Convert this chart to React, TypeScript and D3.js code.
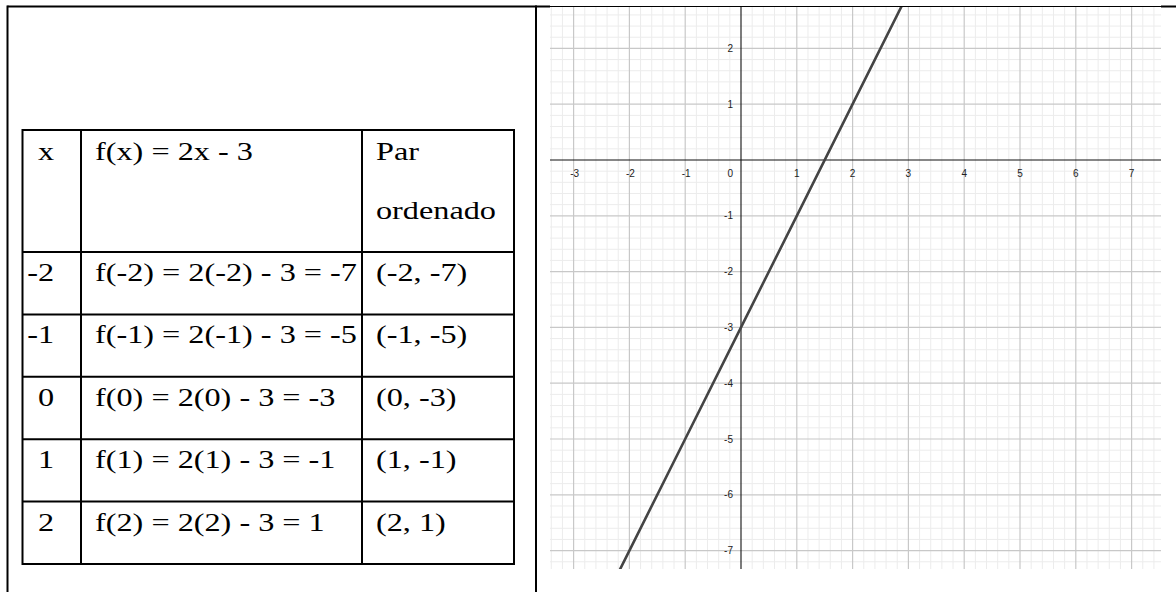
import React from "react";
import * as d3 from "d3";

// ---- data ----
const xValues = [-2, -1, 0, 1, 2];
const fValues = [-7, -5, -3, -1, 1];
const headerLabels = ["x", "f(x) = 2x - 3", "Par"];
const headerLabel2 = "ordenado";
const xLabels = ["-2", "-1", "0", "1", "2"];
const fLabels = [
  "f(-2) = 2(-2) - 3 = -7",
  "f(-1) = 2(-1) - 3 = -5",
  "f(0) = 2(0) - 3 = -3",
  "f(1) = 2(1) - 3 = -1",
  "f(2) = 2(2) - 3 = 1",
];
const pairLabels = ["(-2, -7)", "(-1, -5)", "(0, -3)", "(1, -1)", "(2, 1)"];
const xTicks = [-3, -2, -1, 1, 2, 3, 4, 5, 6, 7];
const yTicks = [2, 1, -1, -2, -3, -4, -5, -6, -7];

const W = 1176;
const H = 592;

// table geometry
const TL = 22.5, C1 = 81, C2 = 362, TR = 514;
const TT = 130, HB = 252, RH = 62.4;
const FS = 25, SX = 1.29;
const serif = "'Liberation Serif', 'Times New Roman', serif";
const sans = "'Liberation Sans', Arial, sans-serif";

// graph geometry
const GX0 = 550, GX1 = 1161, GY0 = 6.5, GY1 = 569;
const UNIT = 55.8;
const X0 = 741, Y0 = 160;

const ST = ({ x, y, text, anchor = "start" }: { x: number; y: number; text: string; anchor?: string }) => (
  <text
    transform={`translate(${x},${y}) scale(${SX},1)`}
    textAnchor={anchor}
    fontFamily={serif}
    fontSize={FS}
    fill="#000"
  >
    {text}
  </text>
);

export default function App() {
  const xScale = d3.scaleLinear().domain([0, 1]).range([X0, X0 + UNIT]);
  const yScale = d3.scaleLinear().domain([0, 1]).range([Y0, Y0 - UNIT]);
  const xMin = xScale.invert(GX0), xMax = xScale.invert(GX1);
  const yMin = yScale.invert(GY1), yMax = yScale.invert(GY0);

  const minorX = d3.range(Math.ceil(xMin * 5), Math.floor(xMax * 5) + 1).filter((i) => i % 5 !== 0).map((i) => i / 5);
  const minorY = d3.range(Math.ceil(yMin * 5), Math.floor(yMax * 5) + 1).filter((i) => i % 5 !== 0).map((i) => i / 5);
  const majorX = d3.range(Math.ceil(xMin), Math.floor(xMax) + 1).filter((v) => v !== 0);
  const majorY = d3.range(Math.ceil(yMin), Math.floor(yMax) + 1).filter((v) => v !== 0);

  // line through table points, extended to graph edges
  const n = xValues.length;
  const slope = (fValues[n - 1] - fValues[0]) / (xValues[n - 1] - xValues[0]);
  const icpt = fValues[0] - slope * xValues[0];
  const ext = [xMin - 1, ...xValues, xMax + 1].map((x) => [x, slope * x + icpt] as [number, number]);
  const lineGen = d3.line<[number, number]>().x((d) => xScale(d[0])).y((d) => yScale(d[1]));

  const rowTops = xLabels.map((_, i) => HB + i * RH);
  const TB = HB + xLabels.length * RH;

  return (
    <svg width={W} height={H} style={{ position: "absolute", left: 0, top: 0, background: "#fff" }}>
      <rect x={0} y={0} width={W} height={H} fill="#fff" />
      <defs>
        <clipPath id="gclip">
          <rect x={GX0} y={GY0} width={GX1 - GX0} height={GY1 - GY0} />
        </clipPath>
      </defs>

      {/* graph */}
      <g clipPath="url(#gclip)">
        {minorX.map((v) => (
          <line key={"mx" + v} x1={xScale(v)} x2={xScale(v)} y1={GY0} y2={GY1} stroke="#ececec" strokeWidth={1} />
        ))}
        {minorY.map((v) => (
          <line key={"my" + v} y1={yScale(v)} y2={yScale(v)} x1={GX0} x2={GX1} stroke="#ececec" strokeWidth={1} />
        ))}
        {majorX.map((v) => (
          <line key={"Mx" + v} x1={xScale(v)} x2={xScale(v)} y1={GY0} y2={GY1} stroke="#c8c8c8" strokeWidth={1.2} />
        ))}
        {majorY.map((v) => (
          <line key={"My" + v} y1={yScale(v)} y2={yScale(v)} x1={GX0} x2={GX1} stroke="#c8c8c8" strokeWidth={1.2} />
        ))}
        <line x1={GX0} x2={GX1} y1={yScale(0)} y2={yScale(0)} stroke="#111" strokeWidth={1.1} />
        <line x1={xScale(0)} x2={xScale(0)} y1={GY0} y2={GY1} stroke="#111" strokeWidth={1.1} />
        {xTicks.map((v) => (
          <text key={"xt" + v} x={xScale(v) + (v < 0 ? 1 : 0)} y={Y0 + 16.5} textAnchor="middle"
            fontFamily={sans} fontSize={10} fill="#222">{String(v)}</text>
        ))}
        <text x={X0 - 8} y={Y0 + 16.5} textAnchor="end" fontFamily={sans} fontSize={10} fill="#222">0</text>
        {yTicks.map((v) => (
          <text key={"yt" + v} x={X0 - 8} y={yScale(v) + 3.5} textAnchor="end"
            fontFamily={sans} fontSize={10} fill="#222">{String(v)}</text>
        ))}
        <path d={lineGen(ext) || ""} fill="none" stroke="#444" strokeWidth={2.6} />
      </g>

      {/* outer frame */}
      <line x1={7.5} x2={GX0} y1={GY0} y2={GY0} stroke="#000" strokeWidth={2} />
      <line x1={GX0} x2={GX1} y1={GY0} y2={GY0} stroke="#000" strokeWidth={1.2} />
      <line x1={GX1} x2={W} y1={GY0} y2={GY0} stroke="#000" strokeWidth={2} />
      <line x1={7.5} x2={7.5} y1={5.5} y2={H} stroke="#000" strokeWidth={2} />
      <line x1={536} x2={536} y1={5.5} y2={H} stroke="#000" strokeWidth={2} />

      {/* inner table */}
      <rect x={TL} y={TT} width={TR - TL} height={TB - TT} fill="none" stroke="#000" strokeWidth={2} />
      <line x1={C1} x2={C1} y1={TT} y2={TB} stroke="#000" strokeWidth={2} />
      <line x1={C2} x2={C2} y1={TT} y2={TB} stroke="#000" strokeWidth={2} />
      {rowTops.map((y, i) => (
        <line key={"rl" + i} x1={TL} x2={TR} y1={y} y2={y} stroke="#000" strokeWidth={2} />
      ))}

      <ST x={54} y={160} text={headerLabels[0]} anchor="end" />
      <ST x={95} y={160} text={headerLabels[1]} />
      <ST x={376} y={160} text={headerLabels[2]} />
      <ST x={376} y={219} text={headerLabel2} />
      {xLabels.map((t, i) => (
        <g key={"r" + i}>
          <ST x={54} y={rowTops[i] + 29} text={t} anchor="end" />
          <ST x={95} y={rowTops[i] + 29} text={fLabels[i]} />
          <ST x={376} y={rowTops[i] + 29} text={pairLabels[i]} />
        </g>
      ))}
    </svg>
  );
}
